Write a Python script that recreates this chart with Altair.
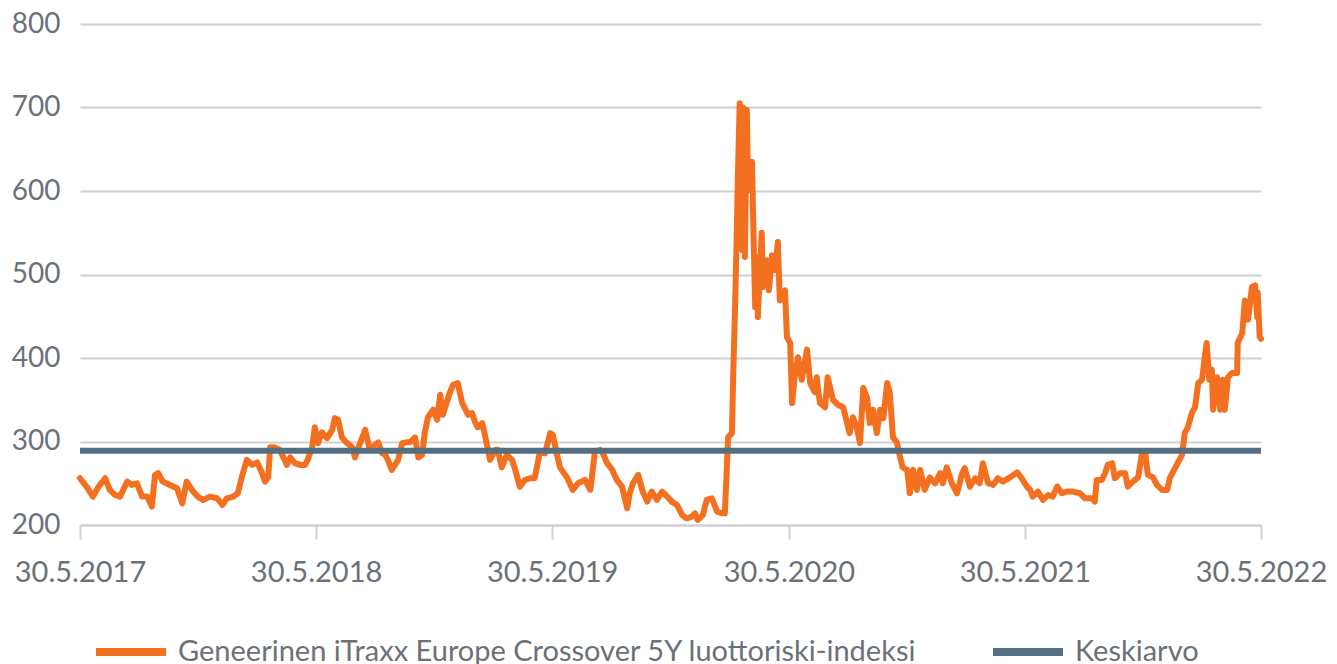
import altair as alt
import pandas as pd

START = "2017-05-30"
SERIES_NAME = "Geneerinen iTraxx Europe Crossover 5Y  luottoriski-indeksi"
MEAN_NAME = "Keskiarvo"
MEAN_VALUE = 289

# days since 30.5.2017
days = [
    0, 11, 20, 28, 39, 46, 54, 62, 73, 80, 88, 96, 104, 111, 116, 121, 128, 139, 150, 158,
    165, 175, 182, 190, 201, 212, 220, 227, 237, 244, 250, 258, 266, 274, 281, 286, 291, 294, 301, 309,
    320, 325, 332, 340, 348, 352, 359, 363, 368, 374, 382, 390, 394, 399, 405, 413, 421, 425, 433, 441,
    448, 456, 461, 467, 472, 476, 482, 487, 492, 498, 506, 510, 518, 523, 529, 533, 538, 546, 552, 557,
    561, 567, 572, 577, 584, 591, 595, 600, 606, 611, 615, 622, 626, 634, 642, 646, 652, 660, 668, 673,
    680, 688, 696, 703, 711, 719, 727, 731, 736, 742, 753, 762, 770, 781, 789, 796, 804, 809, 815, 823,
    830, 838, 846, 850, 855, 863, 870, 877, 884, 892, 900, 908, 915, 923, 931, 938, 946, 951, 955, 963,
    969, 977, 985, 993, 997, 1000, 1002, 1008, 1010, 1013, 1016, 1017, 1020, 1024, 1025, 1028, 1031, 1033, 1039, 1041,
    1044, 1047, 1048, 1054, 1056, 1062, 1065, 1070, 1075, 1079, 1082, 1090, 1093, 1098, 1101, 1105, 1110, 1116, 1124, 1129,
    1136, 1139, 1144, 1152, 1156, 1164, 1172, 1180, 1186, 1190, 1195, 1201, 1206, 1211, 1217, 1221, 1226, 1232, 1237, 1242,
    1248, 1252, 1257, 1263, 1268, 1272, 1279, 1283, 1288, 1294, 1299, 1306, 1314, 1322, 1330, 1334, 1340, 1348, 1356, 1364,
    1368, 1376, 1384, 1391, 1396, 1404, 1412, 1419, 1427, 1438, 1449, 1456, 1464, 1469, 1473, 1481, 1489, 1497, 1504, 1511,
    1518, 1526, 1535, 1546, 1554, 1565, 1569, 1572, 1580, 1585, 1589, 1596, 1600, 1608, 1616, 1620, 1628, 1636, 1642, 1647,
    1651, 1659, 1665, 1673, 1681, 1685, 1693, 1704, 1708, 1713, 1719, 1724, 1729, 1735, 1739, 1742, 1746, 1750, 1752, 1758,
    1763, 1767, 1770, 1775, 1781, 1789, 1790, 1797, 1801, 1806, 1812, 1817, 1820, 1821, 1824, 1826,
]

values = [
    256, 245, 234, 245, 256, 242, 236, 234, 252, 248, 250, 234, 234, 222, 260, 262, 252, 248, 244, 226,
    252, 240, 234, 230, 234, 232, 224, 232, 234, 238, 257, 278, 272, 275, 263, 252, 257, 293, 293, 290,
    272, 281, 274, 272, 272, 278, 293, 317, 298, 311, 304, 314, 328, 326, 305, 298, 293, 281, 298, 314,
    290, 296, 299, 286, 284, 278, 266, 272, 278, 298, 299, 299, 305, 281, 284, 310, 329, 338, 326, 356,
    332, 347, 359, 368, 370, 346, 340, 332, 334, 323, 317, 322, 308, 278, 290, 290, 269, 284, 278, 266,
    246, 254, 256, 256, 287, 286, 310, 308, 290, 269, 257, 242, 250, 254, 242, 287, 290, 285, 274, 266,
    254, 246, 220, 238, 250, 260, 240, 228, 240, 230, 240, 234, 228, 224, 212, 208, 210, 214, 206, 212,
    230, 232, 216, 214, 214, 266, 305, 310, 380, 466, 569, 613, 705, 529, 700, 521, 697, 601, 635, 561,
    461, 521, 449, 550, 485, 517, 481, 523, 505, 539, 469, 481, 425, 418, 346, 377, 401, 374, 410, 370,
    359, 377, 346, 341, 377, 350, 344, 341, 322, 310, 329, 317, 298, 364, 352, 322, 338, 310, 338, 328,
    370, 359, 305, 299, 281, 269, 266, 238, 266, 242, 266, 242, 257, 250, 262, 250, 269, 250, 238, 262,
    268, 246, 256, 250, 274, 250, 248, 256, 252, 257, 263, 256, 246, 242, 234, 240, 230, 236, 234, 246,
    238, 240, 240, 238, 232, 232, 228, 254, 254, 262, 272, 274, 256, 262, 262, 246, 252, 257, 286, 286,
    260, 257, 248, 242, 242, 256, 268, 284, 310, 317, 334, 341, 370, 374, 401, 418, 374, 386, 338, 377,
    338, 374, 338, 377, 382, 382, 418, 430, 469, 446, 485, 487, 449, 478, 425, 423,
]

tick_years = [2017, 2018, 2019, 2020, 2021, 2022]
y_ticks = [200, 300, 400, 500, 600, 700, 800]

ORANGE = "#F37021"
SLATE = "#546E82"
TEXT = "#6B7177"
GRID = "#D0D0D0"
FONT = "Lato"

start = pd.Timestamp(START)
df = pd.DataFrame({
    "date": [start + pd.Timedelta(days=d) for d in days],
    "value": values,
    "series": SERIES_NAME,
})
mean_df = pd.DataFrame({
    "date": [pd.Timestamp(f"{tick_years[0]}-05-30"), pd.Timestamp(f"{tick_years[-1]}-05-30")],
    "value": [MEAN_VALUE, MEAN_VALUE],
    "series": MEAN_NAME,
})

x_enc = alt.X(
    "date:T",
    title=None,
    scale=alt.Scale(domain=[alt.DateTime(year=tick_years[0], month=5, date=30),
                            alt.DateTime(year=tick_years[-1], month=5, date=30)]),
    axis=alt.Axis(
        values=[alt.DateTime(year=y, month=5, date=30) for y in tick_years],
        format="%-d.%-m.%Y",
        grid=False,
        domain=True,
        domainColor=GRID,
        domainWidth=2,
        ticks=True,
        tickColor=GRID,
        tickWidth=2,
        tickSize=14,
        labelFont=FONT,
        labelFontSize=29,
        labelColor=TEXT,
        labelPadding=19,
        labelFlush=False,
        labelOverlap=False,
    ),
)
y_enc = alt.Y(
    "value:Q",
    title=None,
    scale=alt.Scale(domain=[200, 800], nice=False, zero=False),
    axis=alt.Axis(
        values=y_ticks,
        grid=True,
        gridColor=GRID,
        gridWidth=2,
        domain=False,
        ticks=False,
        labelFont=FONT,
        labelFontSize=28,
        labelColor=TEXT,
        labelPadding=20,
    ),
)
color_scale = alt.Scale(domain=[SERIES_NAME, MEAN_NAME], range=[ORANGE, SLATE])
color_enc = alt.Color(
    "series:N",
    scale=color_scale,
    legend=alt.Legend(
        title=None,
        orient="none",
        legendX=12,
        legendY=589,
        direction="horizontal",
        symbolType="stroke",
        symbolSize=4900,
        symbolStrokeWidth=8,
        labelFont=FONT,
        labelFontSize=29,
        labelColor=TEXT,
        labelOffset=8,
        columnPadding=52,
        padding=0,
        labelLimit=1000,
    ),
)

line = alt.Chart(df).mark_line(strokeWidth=6, strokeJoin="round", strokeCap="round").encode(
    x=x_enc, y=y_enc, color=color_enc
)
mean_line = alt.Chart(mean_df).mark_line(strokeWidth=6).encode(
    x=x_enc, y=y_enc, color=color_enc
)

chart = alt.layer(line, mean_line).properties(
    width=1181,
    height=501,
    autosize=alt.AutoSizeParams(type="none"),
    padding={"left": 72, "top": 16, "right": 68, "bottom": 139},
    background="white",
).configure_view(stroke=None)

chart.save("out.html", embed_options={"renderer": "svg", "actions": False})
